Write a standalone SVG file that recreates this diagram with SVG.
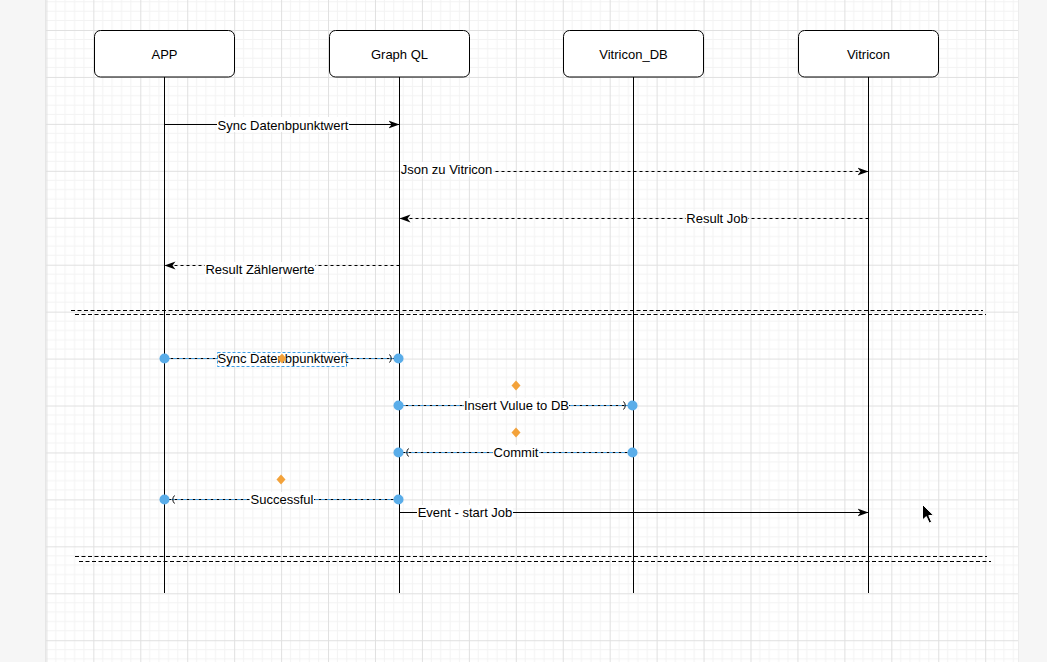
<svg xmlns="http://www.w3.org/2000/svg" width="1047" height="662" viewBox="0 0 1047 662">
<defs>
<pattern id="grid" x="46.4" y="30" width="46.94" height="46.94" patternUnits="userSpaceOnUse">
<path d="M9.39,0V46.94M18.78,0V46.94M28.16,0V46.94M37.55,0V46.94M0,9.39H46.94M0,18.78H46.94M0,28.16H46.94M0,37.55H46.94" stroke="#f3f3f3" stroke-width="1" fill="none"/>
<path d="M0.5,0V46.94M0,0.5H46.94" stroke="#e0e0e0" stroke-width="1" fill="none"/>
</pattern>
<marker id="arr" markerUnits="userSpaceOnUse" markerWidth="12" markerHeight="10" refX="11" refY="5" orient="auto">
<path d="M0,1 L11,5 L0,9 L3,5 Z" fill="#000"/>
</marker>
<style>
.box{fill:#fff;stroke:#000;stroke-width:1}
.life{stroke:#000;stroke-width:1;fill:none}
.lbl{font-family:"Liberation Sans",Arial,sans-serif;font-size:13px;fill:#000;text-anchor:middle}
.solid{stroke:#000;stroke-width:1;fill:none}
.dash{stroke:#000;stroke-width:1;fill:none;stroke-dasharray:3 3}
.sel{stroke:#3a9ee8;stroke-width:1;fill:none;stroke-dasharray:3 3;stroke-dashoffset:3}
.sep{stroke:#000;stroke-width:1;fill:none;stroke-dasharray:4 2.5}
.bg{fill:#fff}
.dot{fill:#5aade9}
.dia{fill:#f3a23a}
.selbox{fill:none;stroke:#3a9ee8;stroke-width:1;stroke-dasharray:3 2}
</style>
</defs>
<rect x="0" y="0" width="1047" height="662" fill="#f6f6f6"/>
<rect x="46" y="0" width="972" height="662" fill="#fff"/>
<rect x="46" y="0" width="972" height="662" fill="url(#grid)"/>
<line x1="45.5" y1="0" x2="45.5" y2="662" stroke="#e6e6e6"/>
<line x1="1018.5" y1="0" x2="1018.5" y2="662" stroke="#ececec"/>

<g id="node-app">
<line class="life" x1="164.5" y1="77" x2="164.5" y2="593"/>
<rect class="box" x="94.5" y="30.5" width="140" height="46.5" rx="6"/>
<text class="lbl" x="164.5" y="59">APP</text>
</g>
<g id="node-graphql">
<line class="life" x1="399.5" y1="77" x2="399.5" y2="593"/>
<rect class="box" x="329.5" y="30.5" width="140" height="46.5" rx="6"/>
<text class="lbl" x="399.5" y="59">Graph QL</text>
</g>
<g id="node-vitricon-db">
<line class="life" x1="633.5" y1="77" x2="633.5" y2="593"/>
<rect class="box" x="563.5" y="30.5" width="140" height="46.5" rx="6"/>
<text class="lbl" x="633.5" y="59">Vitricon_DB</text>
</g>
<g id="node-vitricon">
<line class="life" x1="868.5" y1="77" x2="868.5" y2="593"/>
<rect class="box" x="798.5" y="30.5" width="140" height="46.5" rx="6"/>
<text class="lbl" x="868.5" y="59">Vitricon</text>
</g>

<g id="separators">
<line class="sep" x1="71" y1="310.5" x2="983" y2="310.5"/>
<line class="sep" x1="75" y1="314.5" x2="986" y2="314.5"/>
<line class="sep" x1="75" y1="556.5" x2="987" y2="556.5"/>
<line class="sep" x1="79" y1="561.5" x2="991" y2="561.5"/>
</g>

<g id="connectors">
<line class="solid" x1="164.5" y1="124.5" x2="399.5" y2="124.5" marker-end="url(#arr)"/>
<rect class="bg" x="217" y="117" width="132" height="15"/>
<text class="lbl" x="283" y="129.5">Sync Datenbpunktwert</text>

<line class="dash" x1="399.5" y1="171.5" x2="868.5" y2="171.5" marker-end="url(#arr)"/>
<rect class="bg" x="400" y="162" width="93" height="14"/>
<text class="lbl" x="446.5" y="174">Json zu Vitricon</text>

<line class="dash" x1="868.5" y1="218.5" x2="399.5" y2="218.5" marker-end="url(#arr)"/>
<rect class="bg" x="686" y="211" width="62" height="15"/>
<text class="lbl" x="717" y="223">Result Job</text>

<line class="dash" x1="399.5" y1="265.5" x2="164.5" y2="265.5" marker-end="url(#arr)"/>
<rect class="bg" x="205" y="262" width="110" height="15"/>
<text class="lbl" x="260" y="273.5">Result Zählerwerte</text>

<line class="dash" x1="164.5" y1="358.5" x2="397" y2="358.5"/>
<line class="sel" x1="164.5" y1="358.5" x2="397" y2="358.5"/>
<rect class="bg" x="218" y="352" width="129" height="14"/>
<text class="lbl" x="283" y="363">Sync Datenbpunktwert</text>
<rect class="selbox" x="217.5" y="352.5" width="129" height="14"/>
<path d="M389.5,354.5 Q393,358.5 389.5,362.5" stroke="#000" fill="none"/>
<circle class="dot" cx="164.5" cy="358.5" r="5"/>
<circle class="dot" cx="398.5" cy="358.5" r="5"/>
<path class="dia" d="M282,353.5 L286.5,358.5 L282,363.5 L277.5,358.5 Z"/>

<line class="dash" x1="399.5" y1="405.5" x2="631" y2="405.5"/>
<line class="sel" x1="399.5" y1="405.5" x2="631" y2="405.5"/>
<rect class="bg" x="464" y="398" width="105" height="14"/>
<text class="lbl" x="516.5" y="410">Insert Vulue to DB</text>
<path d="M623.5,401.5 Q627,405.5 623.5,409.5" stroke="#000" fill="none"/>
<circle class="dot" cx="398.5" cy="405.5" r="5"/>
<circle class="dot" cx="632.5" cy="405.5" r="5"/>
<path class="dia" d="M516,380.5 L520.5,385.5 L516,390.5 L511.5,385.5 Z"/>

<line class="dash" x1="633.5" y1="452.5" x2="402" y2="452.5"/>
<line class="sel" x1="633.5" y1="452.5" x2="402" y2="452.5"/>
<rect class="bg" x="493" y="445" width="46" height="14"/>
<text class="lbl" x="516" y="457">Commit</text>
<path d="M408.5,448.5 Q405,452.5 408.5,456.5" stroke="#000" fill="none"/>
<circle class="dot" cx="398.5" cy="452.5" r="5"/>
<circle class="dot" cx="632.5" cy="452.5" r="5"/>
<path class="dia" d="M516,427.5 L520.5,432.5 L516,437.5 L511.5,432.5 Z"/>

<line class="dash" x1="399.5" y1="499.5" x2="167" y2="499.5"/>
<line class="sel" x1="399.5" y1="499.5" x2="167" y2="499.5"/>
<rect class="bg" x="250" y="492" width="64" height="14"/>
<text class="lbl" x="282" y="504">Successful</text>
<path d="M174.5,495.5 Q171,499.5 174.5,503.5" stroke="#000" fill="none"/>
<circle class="dot" cx="164.5" cy="499.5" r="5"/>
<circle class="dot" cx="398.5" cy="499.5" r="5"/>
<path class="dia" d="M281,474.5 L285.5,479.5 L281,484.5 L276.5,479.5 Z"/>

<line class="solid" x1="399.5" y1="512.5" x2="868.5" y2="512.5" marker-end="url(#arr)"/>
<rect class="bg" x="417" y="505" width="96" height="15"/>
<text class="lbl" x="465" y="517">Event - start Job</text>
</g>

<g id="cursor">
<path d="M922.5,504.5 L922.5,520 L926.3,516.6 L929.2,523 L931.6,522 L928.8,515.6 L933.5,515.3 Z" fill="#000" stroke="#fff" stroke-width="1"/>
</g>
</svg>
